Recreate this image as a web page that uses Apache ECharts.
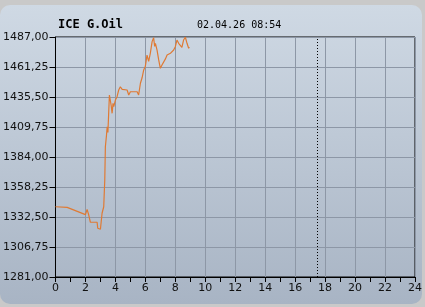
<!DOCTYPE html>
<html>
<head>
<meta charset="utf-8">
<script src="https://cdn.jsdelivr.net/npm/echarts@6/dist/echarts.min.js"></script>
<style>
html,body{margin:0;padding:0;background:#c9c9c9;}
#c{width:425px;height:307px;}
</style>
</head>
<body>
<div id="c"></div>
<script>
// hours (x) and prices (y)
const hours = [0, 0.78, 2.0, 2.11, 2.22, 2.33, 2.78, 2.82, 3.0, 3.11, 3.22, 3.29, 3.33, 3.4, 3.45, 3.5, 3.55, 3.6, 3.67, 3.72, 3.78, 3.84, 3.89, 4.0, 4.11, 4.22, 4.33, 4.45, 4.55, 4.78, 4.89, 5.0, 5.45, 5.55, 5.67, 5.78, 5.89, 6.0, 6.11, 6.22, 6.33, 6.45, 6.55, 6.62, 6.67, 6.78, 6.89, 7.0, 7.11, 7.22, 7.33, 7.45, 7.67, 7.89, 8.0, 8.11, 8.22, 8.33, 8.44, 8.55, 8.67, 8.78, 8.89, 8.93];
const prices = [1341.3, 1340.8, 1334.5, 1339.1, 1334.2, 1328.0, 1328.0, 1322.8, 1322.0, 1335.7, 1341.3, 1364.3, 1392.8, 1402.0, 1410.0, 1405.0, 1421.5, 1437.2, 1438.7, 1428.0, 1421.5, 1430.0, 1427.2, 1432.9, 1435.8, 1441.5, 1444.3, 1442.0, 1443.0, 1441.5, 1437.2, 1440.0, 1440.0, 1437.2, 1447.3, 1452.0, 1458.7, 1462.0, 1471.5, 1466.0, 1473.0, 1483.0, 1486.5, 1479.0, 1481.6, 1475.8, 1467.3, 1460.1, 1463.0, 1464.4, 1468.0, 1471.5, 1473.0, 1475.8, 1478.7, 1484.4, 1481.6, 1480.1, 1478.0, 1484.4, 1486.8, 1481.6, 1477.3, 1478.4];
const yTickLabels = ['1281,00','1306,75','1332,50','1358,25','1384,00','1409,75','1435,50','1461,25','1487,00'];
const xTickLabels = ['0','2','4','6','8','10','12','14','16','18','20','22','24'];
const yMin = 1281, yMax = 1487;
const markerHour = 17.5;
const titleText = 'ICE G.Oil';
const dateText = '02.04.26 08:54';

const chart = echarts.init(document.getElementById('c'), null, {renderer: 'canvas'});
const data = hours.map((h, i) => [h, prices[i]]);

chart.setOption({
  animation: false,
  backgroundColor: '#c9c9c9',
  graphic: [
    {
      type: 'rect', z: -10, silent: true,
      shape: {x: 0, y: 5, width: 422, height: 299, r: 10},
      style: {
        fill: new echarts.graphic.LinearGradient(0, 0, 0, 1, [
          {offset: 0, color: '#cfd9e4'},
          {offset: 1, color: '#a8b4c4'}
        ])
      }
    },
    {
      type: 'text', left: 58, top: 19,
      style: {text: titleText, font: 'bold 12px "DejaVu Sans Mono"', fill: '#000'}
    },
    {
      type: 'text', left: 197, top: 20,
      style: {text: dateText, font: '10px "DejaVu Sans Mono"', fill: '#000'}
    }
  ],
  grid: {
    left: 55, right: 10, top: 37, bottom: 30,
    show: true, borderColor: '#000', borderWidth: 1, backgroundColor: 'transparent'
  },
  xAxis: {
    type: 'value', min: 0, max: 24, interval: 2,
    axisLine: {show: true, lineStyle: {color: '#000', width: 1}},
    axisTick: {show: true, length: 5, lineStyle: {color: '#000'}},
    minorTick: {show: true, splitNumber: 2, length: 5, lineStyle: {color: '#000'}},
    splitLine: {show: true, lineStyle: {color: '#8d97a6', width: 1}},
    axisLabel: {
      color: '#111', fontFamily: 'DejaVu Sans', fontSize: 11, margin: 6,
      formatter: v => xTickLabels[Math.round(v / 2)]
    }
  },
  yAxis: [
    {
      type: 'value', min: yMin, max: yMax,
      axisLine: {show: false}, axisTick: {show: false},
      axisLabel: {show: false}, splitLine: {show: false}
    },
    {
      type: 'value', min: 0, max: yTickLabels.length - 1, interval: 1, position: 'left',
      axisLine: {show: true, lineStyle: {color: '#000'}},
      axisTick: {show: true, length: 6, lineStyle: {color: '#000'}},
      splitLine: {show: true, lineStyle: {color: '#8d97a6', width: 1}},
      axisLabel: {
        color: '#111', fontFamily: 'DejaVu Sans', fontSize: 11, margin: 7,
        formatter: v => yTickLabels[Math.round(v)]
      }
    }
  ],
  series: [
    {
      type: 'line', yAxisIndex: 0, data: data,
      showSymbol: false, symbol: 'none',
      lineStyle: {color: '#df7a34', width: 1.2},
      markLine: {
        silent: true, symbol: 'none', label: {show: false},
        lineStyle: {color: '#000', type: [1, 2], width: 1},
        data: [{xAxis: markerHour}]
      }
    }
  ]
});
</script>
</body>
</html>
